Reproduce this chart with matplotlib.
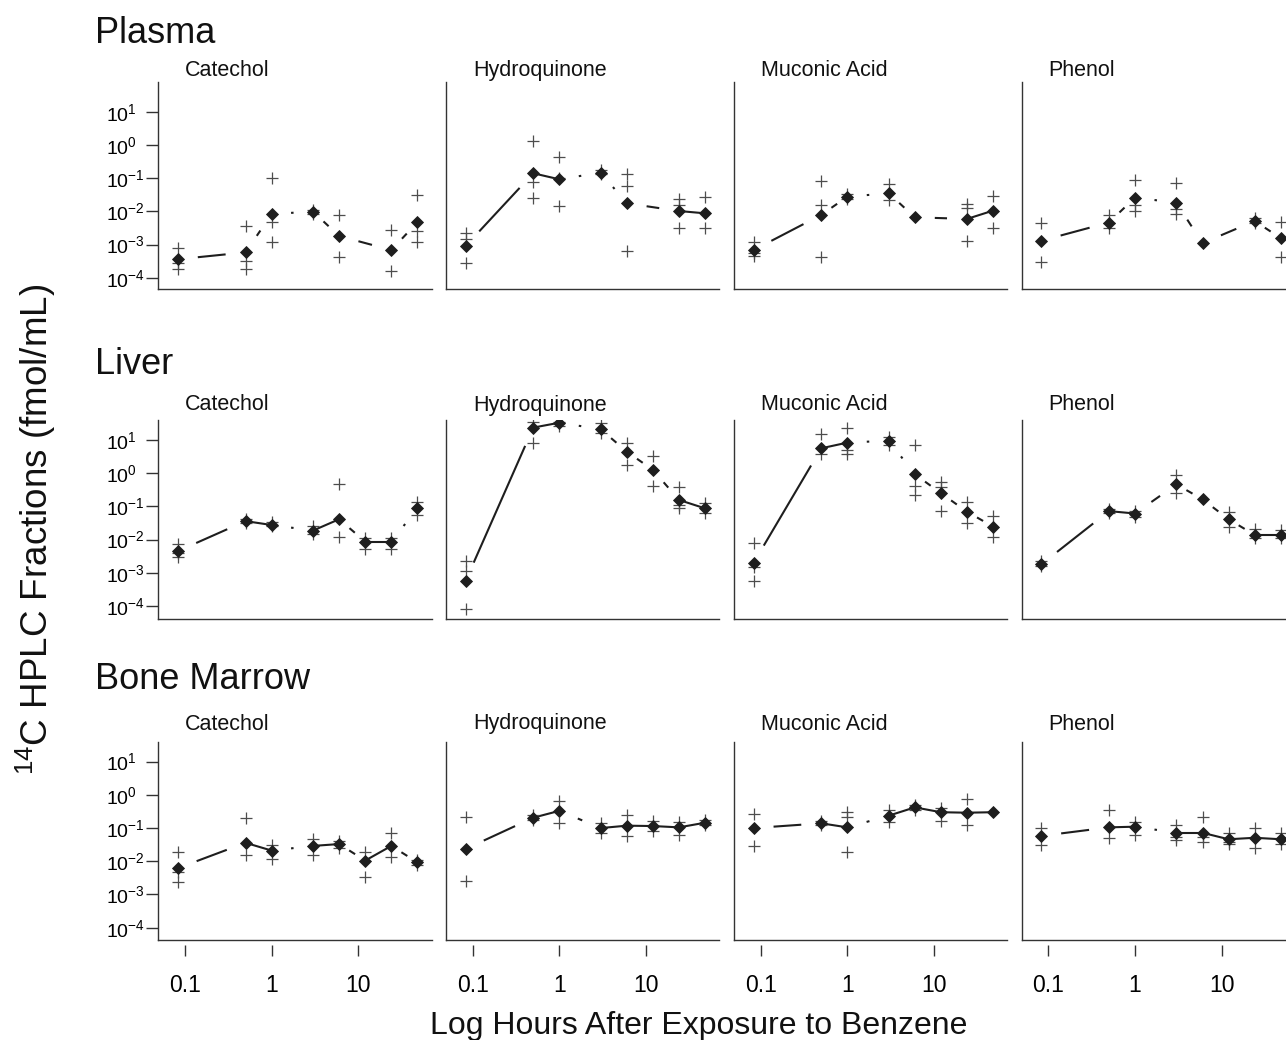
import numpy as np
import matplotlib
matplotlib.use("Agg")
import matplotlib.pyplot as plt
from matplotlib.collections import LineCollection
from matplotlib.ticker import NullLocator

plt.rcParams['font.family'] = ['Liberation Sans', 'DejaVu Sans']
plt.rcParams['mathtext.default'] = 'regular'

# ---------------- data ----------------
TIMES_PLASMA = [0.083, 0.5, 1, 3, 6, 24, 48]
TIMES = [0.083, 0.5, 1, 3, 6, 12, 24, 48]

ROW_NAMES = ["Plasma", "Liver", "Bone Marrow"]
COL_NAMES = ["Catechol", "Hydroquinone", "Muconic Acid", "Phenol"]

plasma_catechol_mean = [3.6e-4, 5.8e-4, 8.3e-3, 9.8e-3, 1.8e-3, 6.8e-4, 4.7e-3]
plasma_catechol_reps = [[7.8e-4, 2.8e-4, 1.8e-4], [3.5e-3, 3.2e-4, 1.8e-4], [9.9e-2, 4.9e-3, 1.2e-3],
                        [1.1e-2, 8.5e-3], [7.8e-3, 4.3e-4], [2.7e-3, 1.6e-4], [3.1e-2, 2.5e-3, 1.2e-3]]

plasma_hydroquinone_mean = [9.0e-4, 0.14, 0.092, 0.146, 0.0174, 0.0102, 0.0087]
plasma_hydroquinone_reps = [[2.3e-3, 1.5e-3, 2.7e-4], [1.34, 0.078, 0.026], [0.44, 0.1, 0.0145],
                            [0.17, 0.13], [0.133, 0.057, 6.3e-4], [0.023, 0.0155, 3.2e-3], [0.0275, 3.2e-3]]

plasma_muconic_mean = [6.8e-4, 7.8e-3, 0.0275, 0.035, 6.6e-3, 5.9e-3, 0.0105]
plasma_muconic_reps = [[1.15e-3, 5.5e-4, 4.5e-4], [0.082, 0.0155, 4.1e-4], [0.033, 0.024],
                       [0.066, 0.022], [], [0.0166, 0.013, 1.25e-3], [0.0295, 3.2e-3]]

plasma_phenol_mean = [1.3e-3, 4.6e-3, 0.026, 0.018, 1.1e-3, 5.1e-3, 1.55e-3]
plasma_phenol_reps = [[4.6e-3, 3.0e-4], [7.5e-3, 4.3e-3, 3.2e-3], [0.087, 0.0155, 0.0105],
                      [0.07, 0.0115, 8.1e-3], [], [6.2e-3, 4.3e-3], [4.9e-3, 4.1e-4]]

liver_catechol_mean = [4.5e-3, 0.036, 0.0275, 0.0187, 0.041, 8.7e-3, 8.7e-3, 0.087]
liver_catechol_reps = [[7.5e-3, 4.0e-3, 3.0e-3], [0.042, 0.032], [0.034, 0.025], [0.026, 0.015],
                       [0.47, 0.0123], [0.011, 5.1e-3], [0.011, 5.1e-3], [0.138, 0.055]]

liver_hydroquinone_mean = [5.7e-4, 23.5, 33, 21, 4.45, 1.25, 0.156, 0.087]
liver_hydroquinone_reps = [[2.2e-3, 1.15e-3, 7.9e-5], [35, 8.3], [35, 27], [32, 16.6],
                           [7.9, 1.77], [3.3, 0.41], [0.38, 0.11, 0.09], [0.13, 0.062]]

liver_muconic_mean = [2.0e-3, 5.6, 8.3, 9.5, 0.93, 0.25, 0.069, 0.0245]
liver_muconic_reps = [[7.8e-3, 1.5e-3, 5.7e-4], [14.8, 3.8], [22.5, 5.0, 3.8], [12.5, 7.0],
                      [7.1, 0.41, 0.22], [0.55, 0.38, 0.074], [0.138, 0.031], [0.051, 0.0123]]

liver_phenol_mean = [1.8e-3, 0.072, 0.061, 0.46, 0.163, 0.041, 0.0138, 0.0138]
liver_phenol_reps = [[2.2e-3, 1.6e-3], [0.085, 0.062], [0.075, 0.048], [0.88, 0.25], [],
                     [0.069, 0.0245], [0.021, 0.011], [0.019, 0.011]]

bone_catechol_mean = [6.2e-3, 0.036, 0.021, 0.029, 0.033, 0.0105, 0.029, 9.3e-3]
bone_catechol_reps = [[0.0195, 4.6e-3, 2.3e-3], [0.205, 0.0155], [0.031, 0.0115], [0.046, 0.0155],
                      [0.04, 0.025], [0.0195, 3.3e-3], [0.072, 0.0138], [0.011, 7.5e-3]]

bone_hydroquinone_mean = [0.0235, 0.205, 0.33, 0.1, 0.118, 0.115, 0.105, 0.145]
bone_hydroquinone_reps = [[0.22, 2.5e-3], [0.25, 0.17], [0.67, 0.146], [0.145, 0.069],
                          [0.25, 0.058], [0.16, 0.08], [0.15, 0.063], [0.17, 0.12]]

bone_muconic_mean = [0.1, 0.139, 0.105, 0.236, 0.42, 0.3, 0.29, 0.3]
bone_muconic_reps = [[0.26, 0.0295], [0.16, 0.12], [0.31, 0.22, 0.0195], [0.35, 0.155],
                     [0.5, 0.35], [0.4, 0.167], [0.74, 0.124], []]

bone_phenol_mean = [0.058, 0.105, 0.11, 0.072, 0.072, 0.046, 0.051, 0.046]
bone_phenol_reps = [[0.1, 0.031], [0.35, 0.049], [0.155, 0.062], [0.124, 0.055, 0.044],
                    [0.21, 0.055, 0.039], [0.072, 0.039, 0.033], [0.103, 0.0245], [0.072, 0.033]]

Y_TICKS = [1e-4, 1e-3, 1e-2, 1e-1, 1e0, 1e1]
Y_TICK_LABELS = [r'$10^{-4}$', r'$10^{-3}$', r'$10^{-2}$', r'$10^{-1}$', r'$10^{0}$', r'$10^{1}$']
X_TICKS = [0.1, 1, 10]
X_TICK_LABELS = ['0.1', '1', '10']

ROWS = [
    (TIMES_PLASMA, [(plasma_catechol_mean, plasma_catechol_reps),
                    (plasma_hydroquinone_mean, plasma_hydroquinone_reps),
                    (plasma_muconic_mean, plasma_muconic_reps),
                    (plasma_phenol_mean, plasma_phenol_reps)]),
    (TIMES, [(liver_catechol_mean, liver_catechol_reps),
             (liver_hydroquinone_mean, liver_hydroquinone_reps),
             (liver_muconic_mean, liver_muconic_reps),
             (liver_phenol_mean, liver_phenol_reps)]),
    (TIMES, [(bone_catechol_mean, bone_catechol_reps),
             (bone_hydroquinone_mean, bone_hydroquinone_reps),
             (bone_muconic_mean, bone_muconic_reps),
             (bone_phenol_mean, bone_phenol_reps)]),
]

# ---------------- layout (pixels) ----------------
W, H = 1286, 1040
COL_LEFT = [158.3, 446, 734, 1021.7]
COL_W = 273.4
ROW_TOP = [82, 420, 741.7]
ROW_BOT = [288.5, 618.5, 940]
YLIMS = [(10 ** -4.325, 10 ** 1.895), (10 ** -4.375, 10 ** 1.6), (10 ** -4.37, 10 ** 1.6)]
XLIM = (10 ** -1.307, 10 ** 1.846)
ROW_TITLE_BASE = [43, 374, 689]
PANEL_TITLE_BASE = [76, 410.5, 729.5]

SPINE_C = '#333333'
LINE_C = '#1e1e1e'
PLUS_C = '#4d4d4d'
GAP_PX = 20.0
FULL_PX = 30.0

fig = plt.figure(figsize=(W / 100, H / 100), dpi=100)


def draw_mean_line(ax, t, m):
    pts = ax.transData.transform(np.column_stack([t, m]))
    inv = ax.transData.inverted()
    segs = []
    for p0, p1 in zip(pts[:-1], pts[1:]):
        d = p1 - p0
        L = float(np.hypot(d[0], d[1]))
        u = d / L
        if L <= FULL_PX:
            a, b = p0, p1
        else:
            vis = 7.0 if L < 2 * GAP_PX else max(L - 2 * GAP_PX, 2.5)
            mid = (p0 + p1) / 2
            a, b = mid - u * vis / 2, mid + u * vis / 2
        segs.append(inv.transform(np.vstack([a, b])))
    ax.add_collection(LineCollection(segs, colors=LINE_C, linewidths=1.5,
                                     capstyle='butt', zorder=2))


for r, (times, panels) in enumerate(ROWS):
    fig.text(95 / W, 1 - ROW_TITLE_BASE[r] / H, ROW_NAMES[r], fontsize=26,
             ha='left', va='baseline', color='#111111')
    for c, (mean, reps) in enumerate(panels):
        left = COL_LEFT[c]
        ax = fig.add_axes([left / W, 1 - ROW_BOT[r] / H, COL_W / W,
                           (ROW_BOT[r] - ROW_TOP[r]) / H])
        ax.set_xscale('log')
        ax.set_yscale('log')
        ax.set_xlim(*XLIM)
        ax.set_ylim(*YLIMS[r])
        for s in ('top', 'right'):
            ax.spines[s].set_visible(False)
        for s in ('left', 'bottom'):
            ax.spines[s].set_color(SPINE_C)
            ax.spines[s].set_linewidth(1.0)
        ax.xaxis.set_major_locator(NullLocator())
        ax.xaxis.set_minor_locator(NullLocator())
        if c == 0:
            ax.set_yticks(Y_TICKS, labels=Y_TICK_LABELS)
            ax.yaxis.set_minor_locator(NullLocator())
            ax.tick_params(axis='y', length=8.5, width=1.0, color=SPINE_C,
                           labelsize=14, pad=29)
            for lab in ax.get_yticklabels():
                lab.set_horizontalalignment('left')
        else:
            ax.yaxis.set_major_locator(NullLocator())
            ax.yaxis.set_minor_locator(NullLocator())

        fig.text((left + 27) / W, 1 - PANEL_TITLE_BASE[r] / H, COL_NAMES[c],
                 fontsize=15.5, ha='left', va='baseline', color='#111111')

        draw_mean_line(ax, times, mean)
        for t, vals in zip(times, reps):
            if vals:
                ax.plot([t] * len(vals), vals, ls='none', marker='+', ms=8.5,
                        mew=0.9, color=PLUS_C, zorder=3)
        ax.plot(times, mean, ls='none', marker='D', ms=6.3, color=LINE_C,
                mec=LINE_C, mew=0.6, zorder=4)

        if r == len(ROWS) - 1:
            height_px = ROW_BOT[r] - ROW_TOP[r]
            sec = ax.secondary_xaxis(-5.0 / height_px)
            sec.set_xticks(X_TICKS, labels=X_TICK_LABELS)
            sec.xaxis.set_minor_locator(NullLocator())
            sec.spines['bottom'].set_visible(False)
            sec.tick_params(axis='x', length=8, width=1.0, color=SPINE_C,
                            labelsize=16.5, pad=13)

fig.text(699 / W, 1 - 1034 / H, 'Log Hours After Exposure to Benzene',
         fontsize=23, ha='center', va='baseline', color='#111111')
fig.text(36 / W, 1 - 529 / H, r'$^{14}$C HPLC Fractions (fmol/mL)',
         fontsize=26.5, rotation=90, ha='center', va='center', color='#111111')

fig.savefig('out.png', dpi=100, facecolor='white')
